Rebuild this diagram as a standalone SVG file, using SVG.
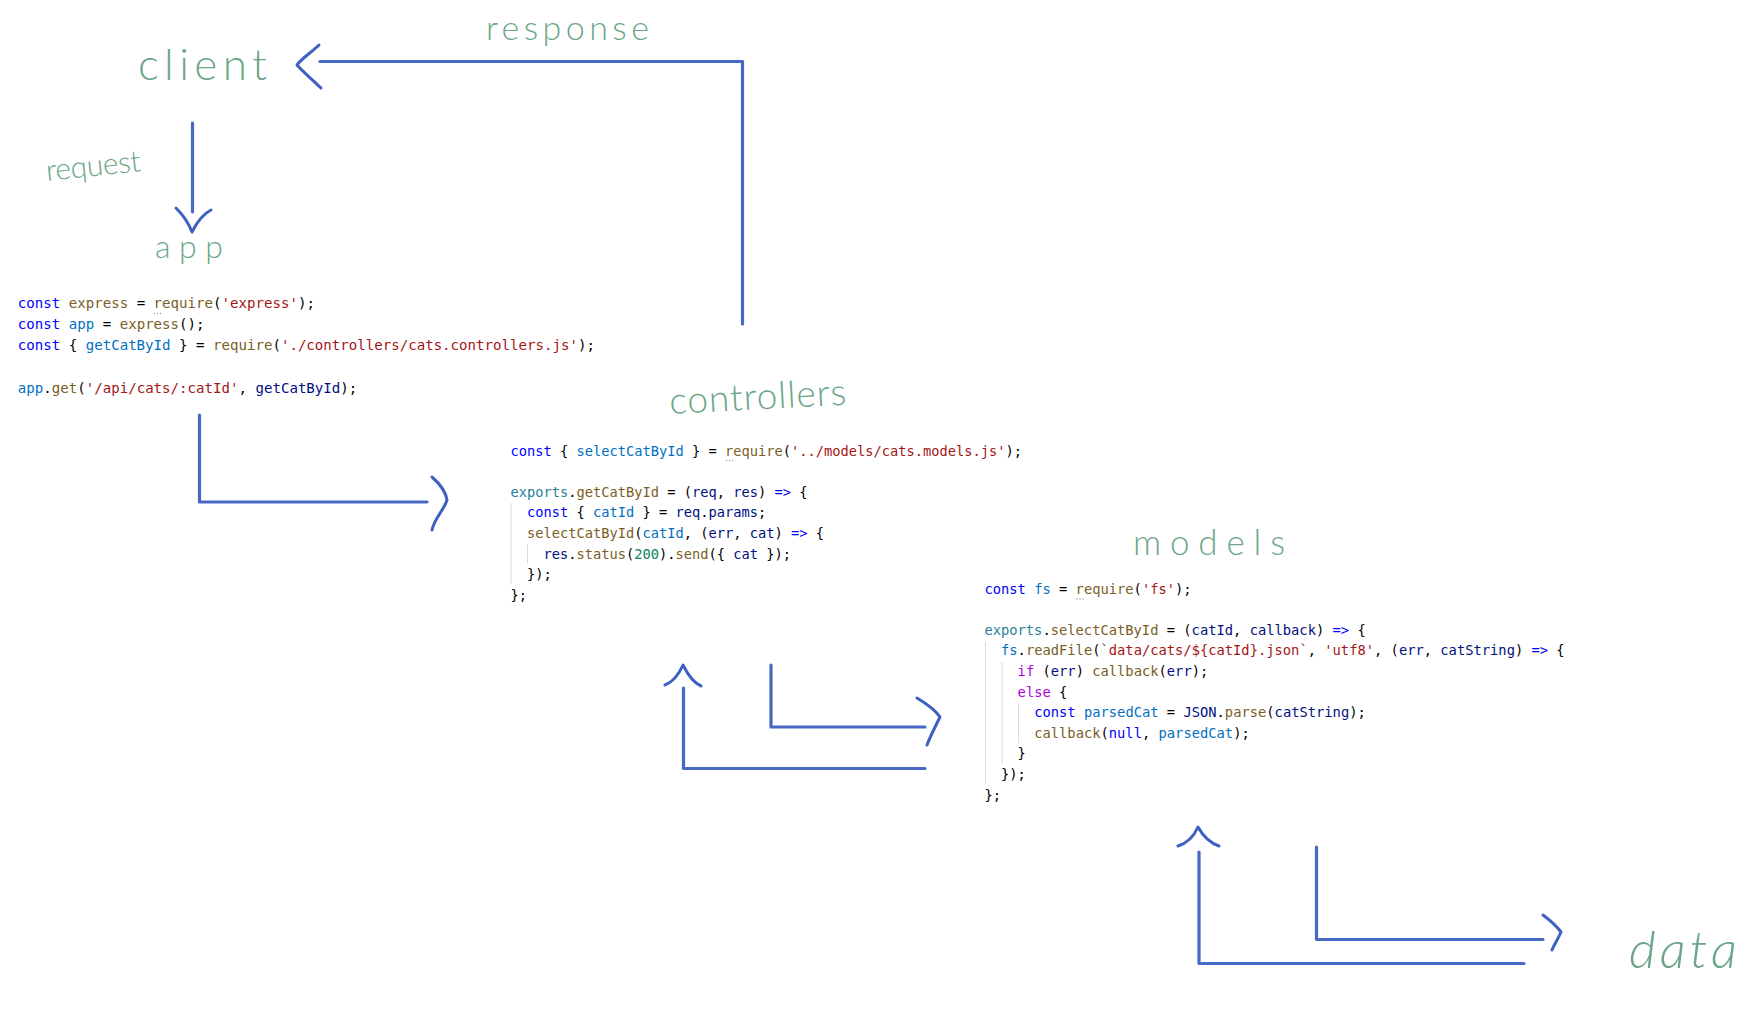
<svg xmlns="http://www.w3.org/2000/svg" width="1748" height="1012" viewBox="0 0 1748 1012">
  <style>
    .bg { fill: #ffffff; }
    .hand { font-family: "Lato", "Open Sans", sans-serif; font-weight: 300; fill: #5f9f7e; opacity: 0.92; }
    .code { font-family: "DejaVu Sans Mono", "Liberation Mono", monospace; fill: #000000; }
    .c1 { font-size: 14.1px; }
    .c2 { font-size: 13.71px; }
    .c3 { font-size: 13.78px; }
    .k { fill: #0000ff; }
    .c { fill: #0070c1; }
    .f { fill: #795e26; }
    .s { fill: #a31515; }
    .v { fill: #001080; }
    .t { fill: #267f99; }
    .n { fill: #098658; }
    .p { fill: #af00db; }
    .guide { stroke: #d9d9d9; stroke-width: 1; fill: none; }
    .hint { fill: #9a9a9a; }
    .wire { stroke: #3d61c2; stroke-width: 3.2; fill: none; stroke-linecap: round; stroke-linejoin: round; opacity: 0.95; }
    .head { stroke: #3d61c2; stroke-width: 3; fill: none; stroke-linecap: round; stroke-linejoin: round; }
  </style>

  <rect class="bg" x="0" y="0" width="1748" height="1012"/>

  <!-- client -->
  <g id="client">
    <text class="hand" x="138" y="80" font-size="44" textLength="129" lengthAdjust="spacing">client</text>
  </g>

  <!-- labels on the request / response paths -->
  <g id="response-label">
    <text class="hand" x="486" y="40" font-size="34" textLength="163" lengthAdjust="spacing">response</text>
  </g>
  <g id="request-label">
    <text class="hand" x="47" y="181" font-size="30" textLength="95" lengthAdjust="spacing" transform="rotate(-6 47 181)">request</text>
  </g>

  <!-- app module -->
  <g id="app">
    <text class="hand" x="155" y="258" font-size="32" textLength="68" lengthAdjust="spacing">app</text>
    <g class="code c1">
      <text x="17.8" y="308"><tspan class="k">const</tspan> <tspan class="f">express</tspan> = <tspan class="f">require</tspan>(<tspan class="s">'express'</tspan>);</text>
      <text x="17.8" y="329.2"><tspan class="k">const</tspan> <tspan class="c">app</tspan> = <tspan class="f">express</tspan>();</text>
      <text x="17.8" y="350.4"><tspan class="k">const</tspan> { <tspan class="c">getCatById</tspan> } = <tspan class="f">require</tspan>(<tspan class="s">'./controllers/cats.controllers.js'</tspan>);</text>
      <text x="17.8" y="392.8"><tspan class="c">app</tspan>.<tspan class="f">get</tspan>(<tspan class="s">'/api/cats/:catId'</tspan>, <tspan class="v">getCatById</tspan>);</text>
    </g>
    <g class="hint">
      <circle cx="154.5" cy="313.5" r="0.7"/><circle cx="157.5" cy="313.5" r="0.7"/><circle cx="160.5" cy="313.5" r="0.7"/>
    </g>
  </g>

  <!-- controllers module -->
  <g id="controllers">
    <text class="hand" x="670" y="414" font-size="37" textLength="177" lengthAdjust="spacing" transform="rotate(-3 670 414)">controllers</text>
    <line class="guide" x1="511" y1="503" x2="511" y2="584"/>
    <line class="guide" x1="527.5" y1="544" x2="527.5" y2="563"/>
    <g class="code c2">
      <text x="510.6" y="455.5"><tspan class="k">const</tspan> { <tspan class="c">selectCatById</tspan> } = <tspan class="f">require</tspan>(<tspan class="s">'../models/cats.models.js'</tspan>);</text>
      <text x="510.6" y="496.7"><tspan class="t">exports</tspan>.<tspan class="f">getCatById</tspan> = (<tspan class="v">req</tspan>, <tspan class="v">res</tspan>) <tspan class="k">=&gt;</tspan> {</text>
      <text x="527.1" y="517.3"><tspan class="k">const</tspan> { <tspan class="c">catId</tspan> } = <tspan class="v">req</tspan>.<tspan class="v">params</tspan>;</text>
      <text x="527.1" y="537.9"><tspan class="f">selectCatById</tspan>(<tspan class="c">catId</tspan>, (<tspan class="v">err</tspan>, <tspan class="v">cat</tspan>) <tspan class="k">=&gt;</tspan> {</text>
      <text x="543.6" y="558.5"><tspan class="v">res</tspan>.<tspan class="f">status</tspan>(<tspan class="n">200</tspan>).<tspan class="f">send</tspan>({ <tspan class="v">cat</tspan> });</text>
      <text x="527.1" y="579.1">});</text>
      <text x="510.6" y="599.7">};</text>
    </g>
    <g class="hint">
      <circle cx="726.5" cy="460.5" r="0.7"/><circle cx="729.5" cy="460.5" r="0.7"/><circle cx="732.5" cy="460.5" r="0.7"/>
    </g>
  </g>

  <!-- models module -->
  <g id="models">
    <text class="hand" x="1133" y="555" font-size="35" textLength="152" lengthAdjust="spacing">models</text>
    <line class="guide" x1="985.5" y1="642" x2="985.5" y2="784"/>
    <line class="guide" x1="1002" y1="662" x2="1002" y2="763"/>
    <line class="guide" x1="1018.6" y1="703" x2="1018.6" y2="743"/>
    <g class="code c3">
      <text x="984.4" y="593.5"><tspan class="k">const</tspan> <tspan class="c">fs</tspan> = <tspan class="f">require</tspan>(<tspan class="s">'fs'</tspan>);</text>
      <text x="984.4" y="634.7"><tspan class="t">exports</tspan>.<tspan class="f">selectCatById</tspan> = (<tspan class="v">catId</tspan>, <tspan class="v">callback</tspan>) <tspan class="k">=&gt;</tspan> {</text>
      <text x="1001" y="655.3"><tspan class="c">fs</tspan>.<tspan class="f">readFile</tspan>(<tspan class="s">`data/cats/${catId}.json`</tspan>, <tspan class="s">'utf8'</tspan>, (<tspan class="v">err</tspan>, <tspan class="v">catString</tspan>) <tspan class="k">=&gt;</tspan> {</text>
      <text x="1017.6" y="675.9"><tspan class="p">if</tspan> (<tspan class="v">err</tspan>) <tspan class="f">callback</tspan>(<tspan class="v">err</tspan>);</text>
      <text x="1017.6" y="696.5"><tspan class="p">else</tspan> {</text>
      <text x="1034.2" y="717.1"><tspan class="k">const</tspan> <tspan class="c">parsedCat</tspan> = <tspan class="v">JSON</tspan>.<tspan class="f">parse</tspan>(<tspan class="v">catString</tspan>);</text>
      <text x="1034.2" y="737.7"><tspan class="f">callback</tspan>(<tspan class="k">null</tspan>, <tspan class="c">parsedCat</tspan>);</text>
      <text x="1017.6" y="758.3">}</text>
      <text x="1001" y="778.9">});</text>
      <text x="984.4" y="799.5">};</text>
    </g>
    <g class="hint">
      <circle cx="1077" cy="599" r="0.7"/><circle cx="1080" cy="599" r="0.7"/><circle cx="1083" cy="599" r="0.7"/>
    </g>
  </g>

  <!-- data store -->
  <g id="data">
    <text class="hand" x="1629" y="968" font-size="52" font-style="italic" textLength="108" lengthAdjust="spacing">data</text>
  </g>

  <!-- hand-drawn connectors -->
  <g id="connectors">
    <!-- response: controllers back up to client -->
    <g id="edge-response">
      <path class="wire" d="M742.5,324 L742.5,61.5 L320,61.5"/>
      <path class="head" d="M319,45 C312,52 301,59 297,65 C303,72 313,80 321,88"/>
    </g>
    <!-- request: client down to app -->
    <g id="edge-request">
      <path class="wire" d="M192.5,123 L192.5,212"/>
      <path class="head" d="M176,208 C183,215 189,224 192,232 C197,222 203,214 211,210"/>
    </g>
    <!-- app to controllers -->
    <g id="edge-app-controllers">
      <path class="wire" d="M199.5,415 L199.5,502 L427,502"/>
      <path class="head" d="M432,477 C440,484 446,493 447,500 C444,510 434,519 432,530"/>
    </g>
    <!-- controllers to models and back -->
    <g id="edge-controllers-models">
      <path class="wire" d="M771,665 L771,727 L925,727"/>
      <path class="head" d="M917,698 C927,704 936,711 940,717 C935,727 930,737 927,745"/>
    </g>
    <g id="edge-models-controllers">
      <path class="wire" d="M925,768.5 L683.5,768.5 L683.5,688"/>
      <path class="head" d="M665,685 C673,682 679,674 683,665 C688,675 694,683 701,686"/>
    </g>
    <!-- models to data and back -->
    <g id="edge-models-data">
      <path class="wire" d="M1316.5,847 L1316.5,939.5 L1543,939.5"/>
      <path class="head" d="M1543,915 C1551,921 1558,928 1561,932 C1558,939 1554,945 1552,950"/>
    </g>
    <g id="edge-data-models">
      <path class="wire" d="M1524,963.5 L1199,963.5 L1199,852"/>
      <path class="head" d="M1178,846 C1188,843 1194,836 1198,827 C1203,836 1210,843 1219,846"/>
    </g>
  </g>
</svg>
